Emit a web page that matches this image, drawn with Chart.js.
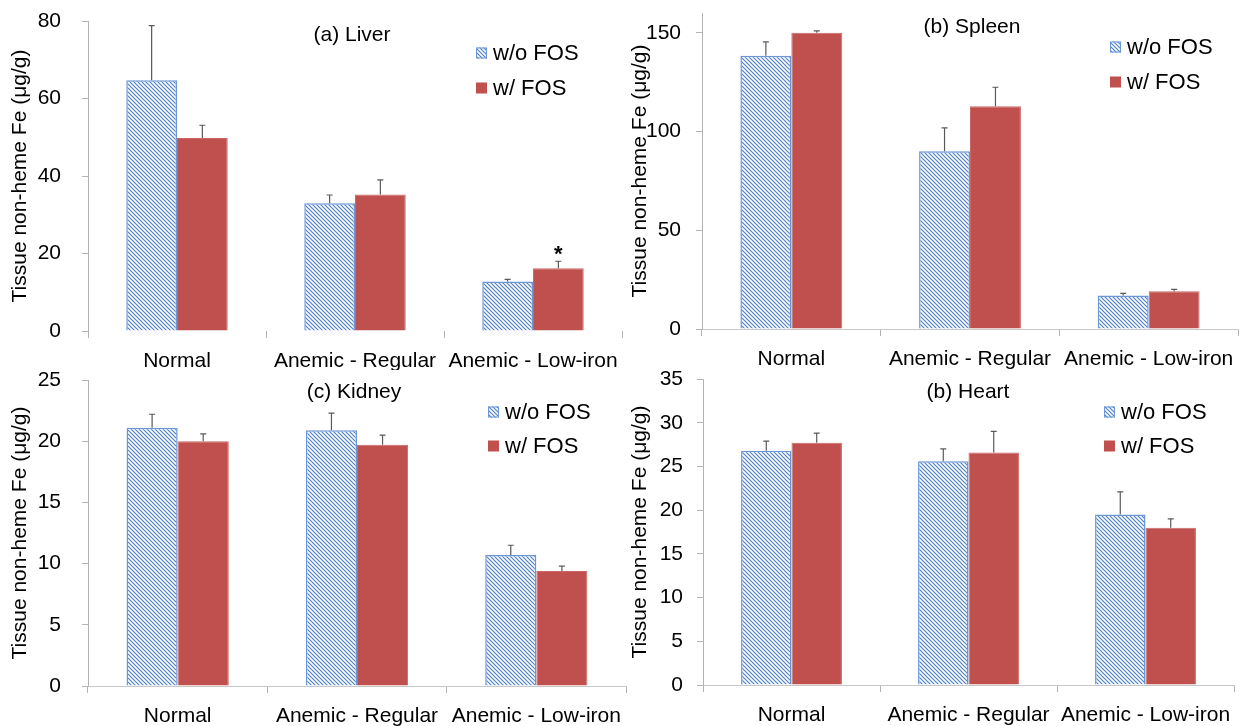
<!DOCTYPE html>
<html>
<head>
<meta charset="utf-8">
<script src="https://cdn.jsdelivr.net/npm/chart.js@4.4.0/dist/chart.umd.min.js"></script>
<style>
  body { margin: 0; background: #fff; }
  #page { position: relative; width: 1247px; height: 726px; overflow: hidden; }
  .panel { position: absolute; }
</style>
</head>
<body>
<div id="page">
  <div class="panel" style="left:0;top:0;width:630px;height:370px"><canvas id="liverChart"></canvas></div>
  <div class="panel" style="left:620px;top:0;width:627px;height:370px"><canvas id="spleenChart"></canvas></div>
  <div class="panel" style="left:0;top:370px;width:630px;height:356px"><canvas id="kidneyChart"></canvas></div>
  <div class="panel" style="left:620px;top:370px;width:627px;height:356px"><canvas id="heartChart"></canvas></div>
</div>
<script>
var categories = ["Normal", "Anemic - Regular", "Anemic - Low-iron"];
var seriesNames = ["w/o FOS", "w/ FOS"];
var yTitle = "Tissue non-heme Fe (\u03bcg/g)";

// values, error bars are upward SD only
var liverWithout = [64.7, 33.0, 12.8];
var liverWith = [49.8, 35.2, 16.2];
var liverWithoutErr = [14.1, 2.1, 0.5];
var liverWithErr = [3.3, 3.8, 1.8];
var liverTicks = [0, 20, 40, 60, 80];

var spleenWithout = [138.4, 90.0, 17.0];
var spleenWith = [150.0, 112.8, 19.1];
var spleenWithoutErr = [7.0, 11.8, 1.0];
var spleenWithErr = [0.9, 9.6, 1.0];
var spleenTicks = [0, 50, 100, 150];

var kidneyWithout = [21.1, 20.9, 10.7];
var kidneyWith = [20.0, 19.7, 9.4];
var kidneyWithoutErr = [1.1, 1.4, 0.8];
var kidneyWithErr = [0.6, 0.8, 0.4];
var kidneyTicks = [0, 5, 10, 15, 20, 25];

var heartWithout = [26.8, 25.6, 19.5];
var heartWith = [27.7, 26.6, 18.0];
var heartWithoutErr = [1.1, 1.4, 2.6];
var heartWithErr = [1.1, 2.4, 1.0];
var heartTicks = [0, 5, 10, 15, 20, 25, 30, 35];

var FONT = "'Liberation Sans', Arial, sans-serif";
var RED = "#c0504d";
var BLUE_EDGE = "#6b97d6";
var AXIS = "#b3b3b3";

Chart.defaults.font.family = FONT;
Chart.defaults.color = "#000";

function hatch() {
  var c = document.createElement("canvas");
  c.width = 4; c.height = 4;
  var g = c.getContext("2d");
  g.fillStyle = "#fff";
  g.fillRect(0, 0, 4, 4);
  g.strokeStyle = "#4f81c9";
  g.lineWidth = 1.2;
  g.beginPath();
  g.moveTo(-1, -1); g.lineTo(5, 5);
  g.moveTo(-1, 3); g.lineTo(1, 5);
  g.moveTo(3, -1); g.lineTo(5, 1);
  g.stroke();
  return g.createPattern(c, "repeat");
}
var stripes = hatch();

// error bars, panel title, legend and the significance star
var decor = {
  id: "decor",
  afterDatasetsDraw: function (chart, args, o) {
    var ctx = chart.ctx, y = chart.scales.y;
    ctx.save();
    chart.data.datasets.forEach(function (ds, i) {
      chart.getDatasetMeta(i).data.forEach(function (bar, j) {
        var top = y.getPixelForValue(ds.data[j] + o.errors[i][j]);
        ctx.strokeStyle = "#5a5a5a";
        ctx.lineWidth = 1.2;
        ctx.beginPath();
        ctx.moveTo(bar.x, bar.y);
        ctx.lineTo(bar.x, top);
        ctx.moveTo(bar.x - 3, top);
        ctx.lineTo(bar.x + 3, top);
        ctx.stroke();
      });
    });

    ctx.fillStyle = "#000";
    ctx.font = "21px " + FONT;
    ctx.textAlign = "center";
    ctx.textBaseline = "middle";
    ctx.fillText(o.title, o.titleX, o.titleY);

    ctx.font = "22px " + FONT;
    ctx.textAlign = "left";
    o.legendY.forEach(function (ly, i) {
      ctx.fillStyle = i === 0 ? stripes : RED;
      ctx.fillRect(o.legendX, ly - 5.5, 11, 11);
      if (i === 0) {
        ctx.strokeStyle = BLUE_EDGE;
        ctx.lineWidth = 1;
        ctx.strokeRect(o.legendX + 0.5, ly - 5, 10, 10);
      }
      ctx.fillStyle = "#000";
      ctx.fillText(seriesNames[i], o.legendX + 17, ly + 1);
    });

    if (o.star) {
      var d = o.star.dataset, k = o.star.index;
      var b = chart.getDatasetMeta(d).data[k];
      var v = chart.data.datasets[d].data[k] + o.errors[d][k];
      ctx.font = "bold 22px " + FONT;
      ctx.textAlign = "center";
      ctx.textBaseline = "alphabetic";
      ctx.fillText("*", b.x, y.getPixelForValue(v));
    }
    ctx.restore();
  }
};

function makeChart(id, without, withF, errW, errF, tickValues, p) {
  new Chart(document.getElementById(id), {
    type: "bar",
    data: {
      labels: categories,
      datasets: [{
        label: seriesNames[0],
        data: without,
        backgroundColor: stripes,
        borderColor: BLUE_EDGE,
        borderWidth: 1.5,
        barPercentage: 1,
        categoryPercentage: 0.57
      }, {
        label: seriesNames[1],
        data: withF,
        backgroundColor: RED,
        borderColor: "#cc6663",
        borderWidth: 1,
        barPercentage: 1,
        categoryPercentage: 0.57
      }]
    },
    options: {
      responsive: true,
      maintainAspectRatio: false,
      animation: false,
      events: [],
      layout: { padding: { top: p.top, right: p.right, left: 0, bottom: 0 } },
      scales: {
        x: {
          afterFit: function (s) {
            s.height = p.xh;
            s.paddingLeft = 0; s.paddingRight = 0;
          },
          grid: { display: true, drawOnChartArea: false, drawTicks: true, tickLength: 7, color: AXIS },
          border: { display: p.xLine, color: "#c8c8c8" },
          ticks: { autoSkip: false, maxRotation: 0, padding: 11, font: { size: 21 } }
        },
        y: {
          min: 0,
          max: p.max,
          afterFit: function (s) {
            s.width = p.yw;
            s.paddingTop = 0; s.paddingBottom = 0;
          },
          afterBuildTicks: function (s) {
            s.ticks = tickValues.map(function (v) { return { value: v }; });
          },
          grid: { display: true, drawOnChartArea: false, drawTicks: true, tickLength: 6, color: AXIS },
          border: { display: true, color: AXIS },
          ticks: { padding: p.tickPad, font: { size: 21 } },
          title: { display: true, text: yTitle, font: { size: 21 }, padding: { top: 8, bottom: 0 } }
        }
      },
      plugins: {
        legend: { display: false },
        tooltip: { enabled: false },
        decor: {
          errors: [errW, errF],
          title: p.title, titleX: p.titleX, titleY: p.titleY,
          legendX: p.legendX, legendY: p.legendY,
          star: p.star
        }
      }
    },
    plugins: [decor]
  });
}

makeChart("liverChart", liverWithout, liverWith, liverWithoutErr, liverWithErr, liverTicks, {
  top: 21, right: 8, xh: 39, yw: 88, max: 80, tickPad: 21, xLine: false,
  title: "(a) Liver", titleX: 352, titleY: 35, legendX: 476, legendY: [53, 88],
  star: { dataset: 1, index: 2 }
});
makeChart("spleenChart", spleenWithout, spleenWith, spleenWithoutErr, spleenWithErr, spleenTicks, {
  top: 13, right: 9, xh: 41, yw: 82, max: 160, tickPad: 15, xLine: true,
  title: "(b) Spleen", titleX: 352, titleY: 27, legendX: 490, legendY: [47, 82]
});
makeChart("kidneyChart", kidneyWithout, kidneyWith, kidneyWithoutErr, kidneyWithErr, kidneyTicks, {
  top: 10, right: 4, xh: 40, yw: 88, max: 25, tickPad: 21, xLine: true,
  title: "(c) Kidney", titleX: 354, titleY: 22, legendX: 488, legendY: [42, 76]
});
makeChart("heartChart", heartWithout, heartWith, heartWithoutErr, heartWithErr, heartTicks, {
  top: 9, right: 13, xh: 41, yw: 83, max: 35, tickPad: 14, xLine: true,
  title: "(b) Heart", titleX: 348, titleY: 22, legendX: 484, legendY: [42, 76]
});
</script>
</body>
</html>
